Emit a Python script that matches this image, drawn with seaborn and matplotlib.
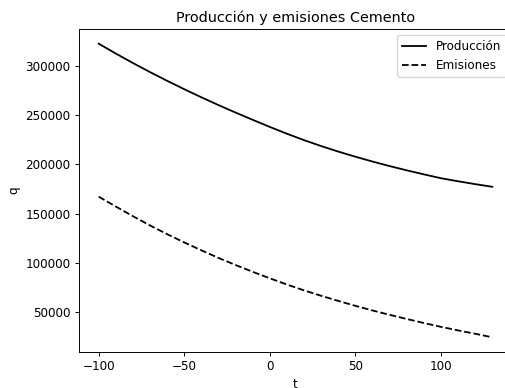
import matplotlib
matplotlib.use("Agg")
import matplotlib.pyplot as plt
import seaborn as sns
import pandas as pd

t = [-100, -90, -80, -70, -60, -50, -40, -30, -20, -10, 0, 10, 20, 30, 40,
     50, 60, 70, 80, 90, 100, 110, 120, 130]
produccion = [322400, 312400, 302800, 293600, 284750, 276250, 268050, 260150,
              252550, 245200, 238000, 231100, 224600, 218600, 213000, 207800,
              202900, 198300, 194000, 189900, 186000, 182900, 180000, 177300]
emisiones = [167300, 157300, 147500, 138100, 129300, 120900, 112900, 105200,
             98000, 91100, 84500, 78200, 72300, 66800, 61600, 56600, 51900,
             47500, 43300, 39200, 35300, 31700, 28300, 24700]
series = ["Producción", "Emisiones"]

s = 0.865
plt.rcParams.update({
    "font.size": 10 * s,
    "axes.titlesize": 12 * s,
    "lines.linewidth": 1.5 * s,
    "axes.linewidth": 0.8 * s,
    "xtick.major.size": 3.5 * s,
    "ytick.major.size": 3.5 * s,
    "xtick.major.width": 0.8 * s,
    "ytick.major.width": 0.8 * s,
    "xtick.major.pad": 3.5 * s,
    "ytick.major.pad": 3.5 * s,
    "axes.titlepad": 6 * s,
    "axes.labelpad": 4 * s,
})

df = pd.DataFrame({
    "t": t + t,
    "q": produccion + emisiones,
    "serie": [series[0]] * len(t) + [series[1]] * len(t),
})

fig = plt.figure(figsize=(5.06, 3.88), dpi=100)
ax = fig.add_axes([79 / 506, 1 - 352 / 388, (512 - 79) / 506, (352 - 29) / 388])
sns.lineplot(data=df, x="t", y="q", style="serie", color="black",
             dashes={series[0]: "", series[1]: (3.7, 1.6)}, ax=ax,
             linewidth=1.5 * s)
ax.set_title("Producción y emisiones Cemento")
ax.set_xlabel("t")
ax.set_ylabel("q")
ax.legend(loc="upper right", title=None)
fig.savefig("out.png", dpi=100)
